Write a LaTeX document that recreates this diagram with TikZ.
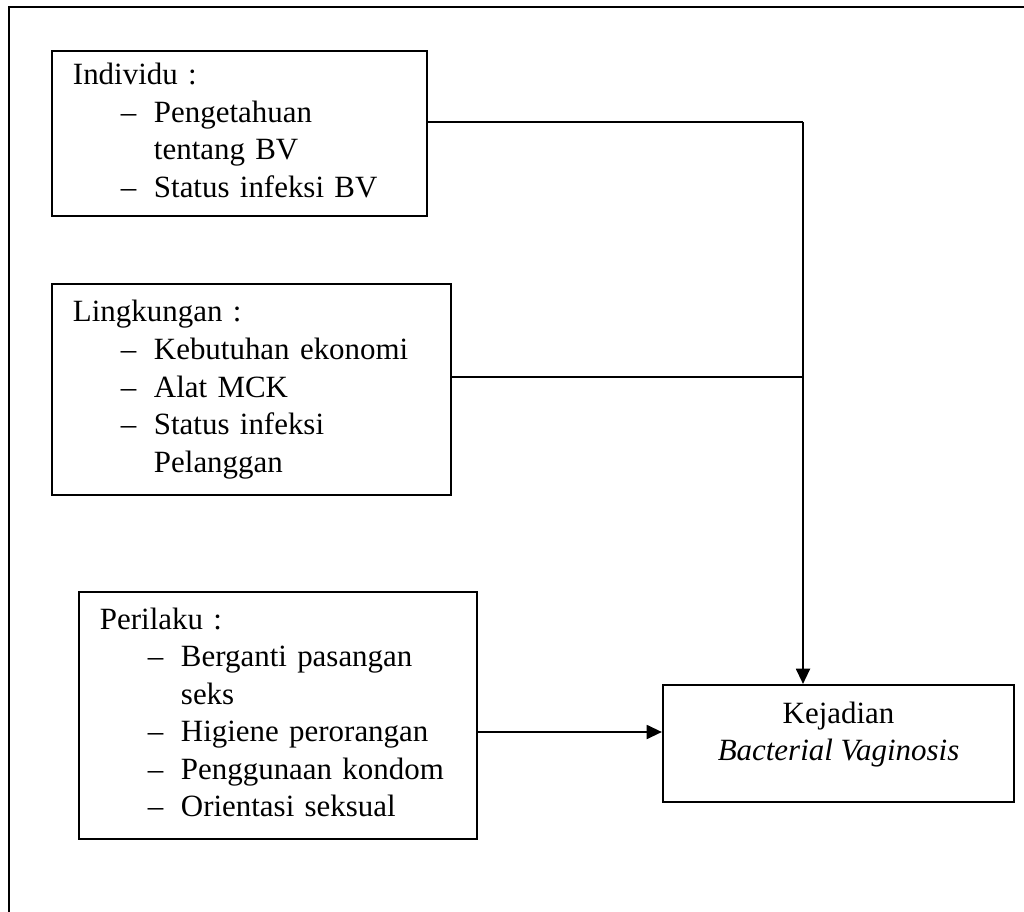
\documentclass[tikz,border=0pt]{standalone}
\usepackage{fontspec}
\setmainfont{Liberation Serif}
\usetikzlibrary{arrows.meta}

\begin{document}
\begin{tikzpicture}[x=0.025cm, y=-0.025cm,
    kotak/.style={draw, line width=1.5pt, inner xsep=0.525cm, inner ysep=0pt, align=left,
        font=\fontsize{22}{26.7}\selectfont},
    garis/.style={line width=1.3pt},
    panah/.style={garis, -{Triangle[length=0.38cm, width=0.35cm]}}]
\useasboundingbox (0,0) rectangle (1024,912);
% bingkai luar
\draw[line width=1.4pt] (1024,7) -- (9,7) -- (9,912);

\node[kotak, text width=8.325cm, minimum height=4.125cm] (individu) at (239.5,133.5) {%
    \begin{tabular}{@{}p{1.2cm}@{}p{0.825cm}@{}l@{}}
    \multicolumn{3}{@{}l@{}}{Individu :}\\
    & -- & Pengetahuan\\
    & & tentang BV\\
    & -- & Status infeksi BV
    \end{tabular}};

\node[kotak, text width=8.925cm, minimum height=5.275cm] (lingkungan) at (251.5,389.5) {%
    \begin{tabular}{@{}p{1.2cm}@{}p{0.825cm}@{}l@{}}
    \multicolumn{3}{@{}l@{}}{Lingkungan :}\\
    & -- & Kebutuhan ekonomi\\
    & -- & Alat MCK\\
    & -- & Status infeksi\\
    & & Pelanggan
    \end{tabular}};

\node[kotak, text width=8.9cm, minimum height=6.175cm] (perilaku) at (278,715.5) {%
    \begin{tabular}{@{}p{1.2cm}@{}p{0.825cm}@{}l@{}}
    \multicolumn{3}{@{}l@{}}{Perilaku :}\\
    & -- & Berganti pasangan\\
    & & seks\\
    & -- & Higiene perorangan\\
    & -- & Penggunaan kondom\\
    & -- & Orientasi seksual
    \end{tabular}};

\node[kotak, align=center, inner xsep=0pt, minimum width=8.775cm, minimum height=2.925cm] (kejadian) at (838.5,743.5) {%
    \begin{tabular}{@{}c@{}}
    Kejadian\\
    \textit{Bacterial Vaginosis}\\[0.45cm]
    \end{tabular}};

% titik pertemuan garis
\coordinate (titik1) at (803,122);
\coordinate (titik2) at (803,377);
\coordinate (titik3) at (560,732);

\draw[garis] (individu.east |- titik1) -- (titik1);
\draw[garis] (lingkungan.east |- titik2) -- (titik2);
\draw[panah] (titik1) -- (titik1 |- kejadian.north);
\draw[panah] (perilaku.east |- titik3) -- (kejadian.west |- titik3);
\end{tikzpicture}
\end{document}
